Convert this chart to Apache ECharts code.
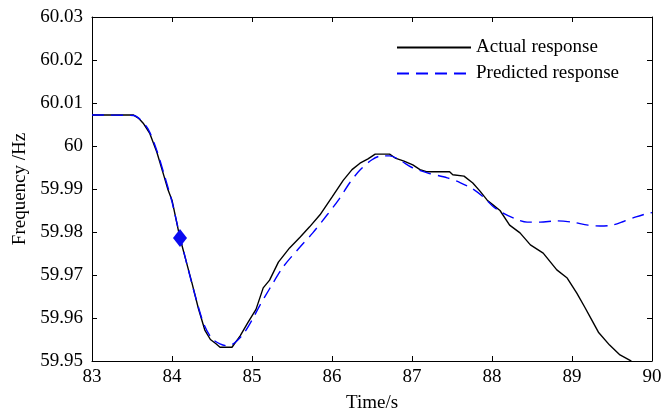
<!DOCTYPE html>
<html>
<head>
<meta charset="utf-8">
<script src="https://cdn.jsdelivr.net/npm/echarts@6/dist/echarts.min.js"></script>
<style>
  html, body { margin: 0; padding: 0; background: #fff; }
  #chart { width: 661px; height: 414px; }
</style>
</head>
<body>
<div id="chart"></div>
<script type="text/javascript">

// actual response (black, solid)
var actualTime = [83, 83.52, 83.58, 83.64, 83.72, 83.81, 83.9, 83.95, 84.0, 84.1, 84.18, 84.25, 84.33, 84.41, 84.48, 84.55, 84.6, 84.75, 84.8, 84.85, 84.95, 85.05, 85.14, 85.22, 85.33, 85.47, 85.6, 85.72, 85.85, 86.0, 86.14, 86.25, 86.35, 86.45, 86.54, 86.72, 86.79, 86.9, 87.01, 87.1, 87.19, 87.47, 87.51, 87.65, 87.76, 87.85, 87.94, 88.02, 88.1, 88.22, 88.35, 88.48, 88.64, 88.81, 88.94, 89.06, 89.16, 89.26, 89.33, 89.47, 89.6, 89.72, 89.75];
var actualFreq = [60.0072, 60.0072, 60.0065, 60.0053, 60.0030, 59.9986, 59.9930, 59.9898, 59.9874, 59.9786, 59.9730, 59.9681, 59.9622, 59.9572, 59.9550, 59.9540, 59.9532, 59.9532, 59.9545, 59.9558, 59.9590, 59.9620, 59.9670, 59.9688, 59.9730, 59.9763, 59.9788, 59.9812, 59.9840, 59.9881, 59.9920, 59.9945, 59.9960, 59.9970, 59.9981, 59.9981, 59.9972, 59.9965, 59.9956, 59.9945, 59.9940, 59.9940, 59.9933, 59.9930, 59.9914, 59.9895, 59.9874, 59.9862, 59.9850, 59.9816, 59.9798, 59.9770, 59.9751, 59.9712, 59.9693, 59.9658, 59.9625, 59.9591, 59.9567, 59.9537, 59.9514, 59.9502, 59.9498];

// predicted response (blue, dashed)
var predTime = [83, 83.52, 83.6, 83.7, 83.8, 83.9, 84.0, 84.1, 84.2, 84.3, 84.4, 84.5, 84.6, 84.7, 84.78, 84.9, 85.0, 85.1, 85.22, 85.39, 85.6, 85.76, 85.94, 86.08, 86.22, 86.35, 86.5, 86.62, 86.72, 86.85, 87.0, 87.2, 87.44, 87.6, 87.76, 87.9, 88.01, 88.14, 88.3, 88.44, 88.6, 88.81, 89.0, 89.2, 89.35, 89.5, 89.65, 89.8, 89.94, 90];
var predFreq = [60.0072, 60.0071, 60.0062, 60.0040, 59.9995, 59.9935, 59.9870, 59.9790, 59.9715, 59.9645, 59.9585, 59.9552, 59.9540, 59.9535, 59.9542, 59.9565, 59.9595, 59.9630, 59.9668, 59.9719, 59.9765, 59.9798, 59.9840, 59.9874, 59.9914, 59.9944, 59.9968, 59.9977, 59.9977, 59.9967, 59.9950, 59.9937, 59.9926, 59.9915, 59.9900, 59.9880, 59.9860, 59.9844, 59.9830, 59.9823, 59.9823, 59.9826, 59.9823, 59.9816, 59.9814, 59.9816, 59.9825, 59.9835, 59.9843, 59.9845];

// marked point
var markTime = [84.1];
var markFreq = [59.9786];

var xMin = 83, xMax = 90, xStep = 1;
var yMin = 59.95, yMax = 60.03, yStep = 0.01;

function pairs(xs, ys) {
    var out = [];
    for (var i = 0; i < xs.length; i++) out.push([xs[i], ys[i]]);
    return out;
}

var font = "'Liberation Serif', 'Times New Roman', serif";
var fs = 19;
var tickStyle = { show: true, inside: true, length: 5, lineStyle: { color: '#000', width: 1 } };

var chart = echarts.init(document.getElementById('chart'));

var option = {
    animation: false,
    backgroundColor: '#fff',
    textStyle: { fontFamily: font },
    grid: { left: 92, right: 9, top: 17, bottom: 53, outerBoundsMode: 'none', containLabel: false },
    legend: {
        orient: 'vertical',
        left: 391,
        top: 33,
        itemWidth: 74,
        itemHeight: 14,
        itemGap: 7,
        itemStyle: { opacity: 0 },
        textStyle: { fontFamily: font, fontSize: fs, color: '#000' },
        data: ['Actual response', 'Predicted response']
    },
    xAxis: [
        {
            type: 'value', min: xMin, max: xMax, interval: xStep,
            name: 'Time/s', nameLocation: 'middle', nameGap: 33,
            nameTextStyle: { fontFamily: font, fontSize: fs, color: '#000' },
            axisLine: { show: true, onZero: false, lineStyle: { color: '#000', width: 1 } },
            axisTick: tickStyle,
            axisLabel: { fontFamily: font, fontSize: fs, color: '#000', margin: 7 },
            splitLine: { show: false }
        },
        {
            type: 'value', min: xMin, max: xMax, interval: xStep, position: 'top',
            axisLine: { show: true, onZero: false, lineStyle: { color: '#000', width: 1 } },
            axisTick: tickStyle,
            axisLabel: { show: false },
            splitLine: { show: false }
        }
    ],
    yAxis: [
        {
            type: 'value', min: yMin, max: yMax, interval: yStep,
            name: 'Frequency /Hz', nameLocation: 'middle', nameGap: 62,
            nameTextStyle: { fontFamily: font, fontSize: fs, color: '#000' },
            axisLine: { show: true, onZero: false, lineStyle: { color: '#000', width: 1 } },
            axisTick: tickStyle,
            axisLabel: {
                fontFamily: font, fontSize: fs, color: '#000', margin: 9,
                formatter: function (v) { return String(Math.round(v * 100) / 100); }
            },
            splitLine: { show: false }
        },
        {
            type: 'value', min: yMin, max: yMax, interval: yStep, position: 'right',
            axisLine: { show: true, onZero: false, lineStyle: { color: '#000', width: 1 } },
            axisTick: tickStyle,
            axisLabel: { show: false },
            splitLine: { show: false }
        }
    ],
    series: [
        {
            name: 'Actual response',
            type: 'line',
            symbol: 'none',
            data: pairs(actualTime, actualFreq),
            lineStyle: { color: '#000', width: 1.4 },
            itemStyle: { color: '#000' },
            clip: true
        },
        {
            name: 'Predicted response',
            type: 'line',
            symbol: 'none',
            smooth: 0.3,
            data: pairs(predTime, predFreq),
            lineStyle: { color: '#0000ff', width: 1.4, type: [12, 7] },
            itemStyle: { color: '#0000ff' },
            clip: true
        },
        {
            name: 'mark',
            type: 'scatter',
            symbol: 'diamond',
            symbolSize: [14, 18],
            data: pairs(markTime, markFreq),
            itemStyle: { color: '#0a0af0', opacity: 1 },
            z: 5
        }
    ]
};

chart.setOption(option);

</script>
</body>
</html>
